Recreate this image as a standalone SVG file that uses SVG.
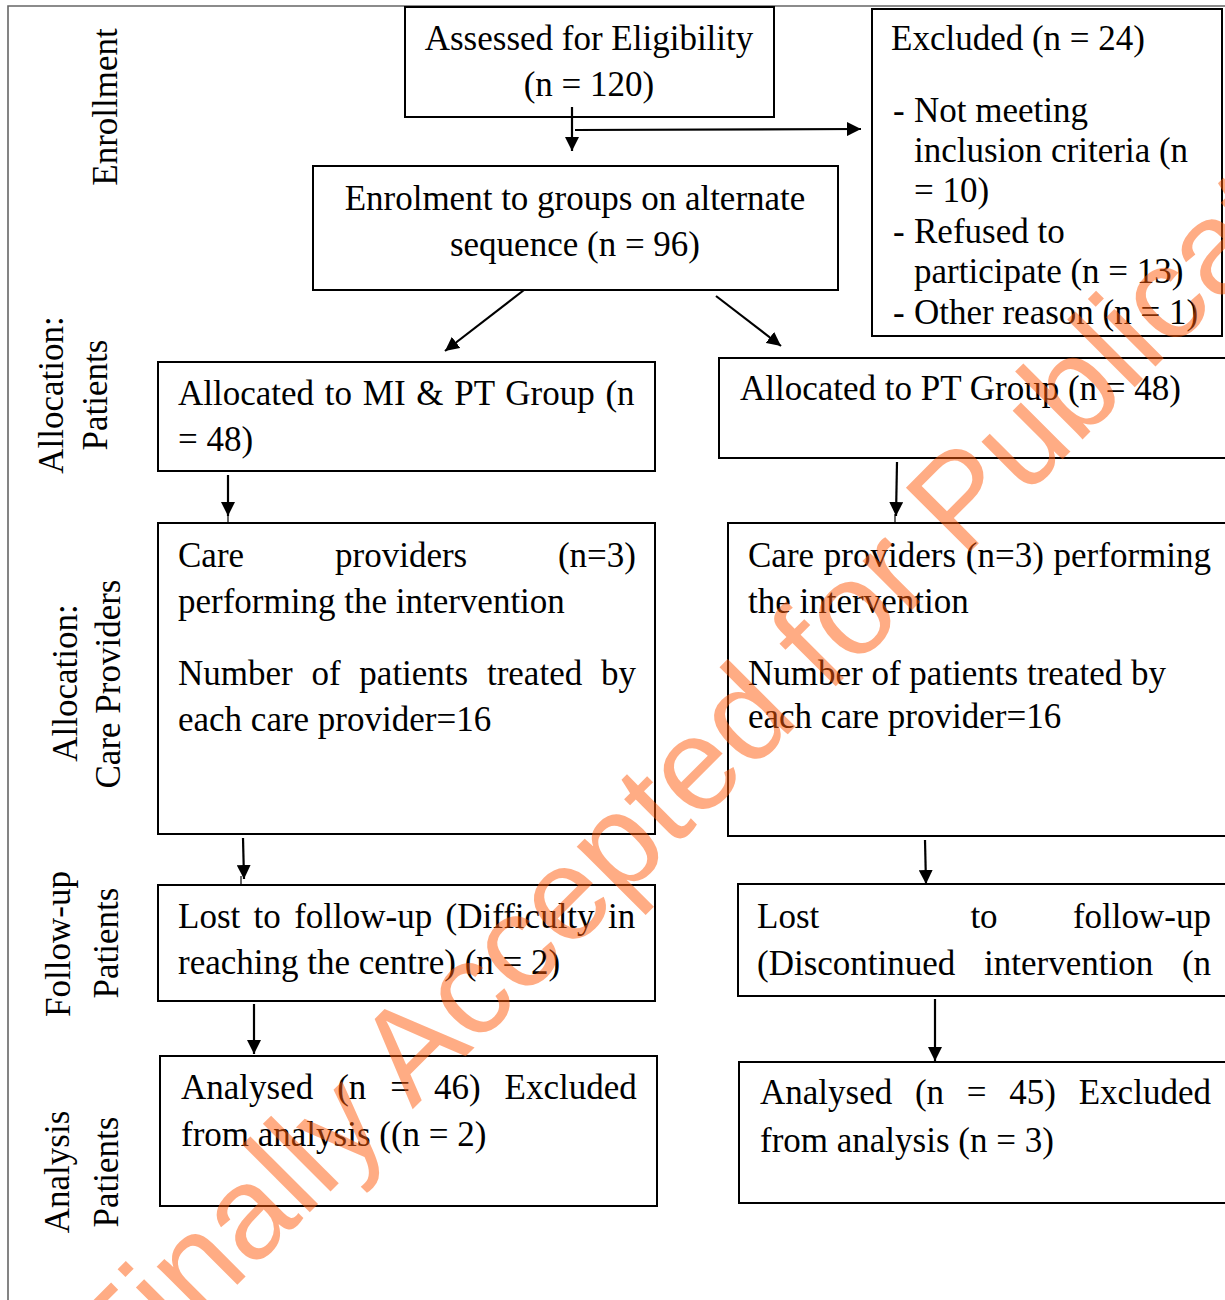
<svg xmlns="http://www.w3.org/2000/svg" width="1225" height="1300" viewBox="0 0 1225 1300">
<defs>
<style>
.box{fill:#fff;stroke:#000;stroke-width:2}
.t{font-family:"Liberation Serif","Times New Roman",serif;font-size:35px;fill:#000}
.m{text-anchor:middle}
.c{stroke:#000;stroke-width:2.2;fill:none}
.tick{stroke:#000;stroke-width:1.2}
.wm{font-family:"Liberation Sans",Arial,sans-serif;font-size:132px;fill:#ff5a0a;fill-opacity:0.5}
</style>
<marker id="ah" viewBox="0 0 14 14" refX="14" refY="7" markerWidth="14" markerHeight="14" markerUnits="userSpaceOnUse" orient="auto">
<path d="M0,0 L14,7 L0,14 Z" fill="#000"/>
</marker>
</defs>
<rect width="1225" height="1300" fill="#fff"/>
<path d="M8,1300 V6 H1225" fill="none" stroke="#666" stroke-width="1.6"/>

<g id="stage-labels" class="t m">
<text transform="translate(117,107) rotate(-90)">Enrollment</text>
<text transform="translate(63,395) rotate(-90)">Allocation:</text>
<text transform="translate(107,395) rotate(-90)">Patients</text>
<text transform="translate(77,683) rotate(-90)">Allocation:</text>
<text transform="translate(120,684) rotate(-90)">Care Providers</text>
<text transform="translate(70,944) rotate(-90)">Follow-up</text>
<text transform="translate(118,943) rotate(-90)">Patients</text>
<text transform="translate(69,1172) rotate(-90)">Analysis</text>
<text transform="translate(118,1172) rotate(-90)">Patients</text>
</g>

<g id="assessed">
<rect class="box" x="405" y="7" width="369" height="110"/>
<text class="t m" x="589" y="50">Assessed for Eligibility</text>
<text class="t m" x="589" y="96">(n = 120)</text>
</g>

<g id="excluded">
<rect class="box" x="872" y="9" width="350" height="327"/>
<text class="t" x="891" y="50">Excluded (n = 24)</text>
<text class="t" x="893" y="122">-</text><text class="t" x="914" y="122">Not meeting</text>
<text class="t" x="914" y="162">inclusion criteria (n</text>
<text class="t" x="914" y="202">= 10)</text>
<text class="t" x="893" y="243">-</text><text class="t" x="914" y="243">Refused to</text>
<text class="t" x="914" y="283">participate (n = 13)</text>
<text class="t" x="893" y="324">-</text><text class="t" x="914" y="324">Other reason (n = 1)</text>
</g>

<g id="enrolment">
<rect class="box" x="313" y="166" width="525" height="124"/>
<text class="t m" x="575" y="210">Enrolment to groups on alternate</text>
<text class="t m" x="575" y="256">sequence (n = 96)</text>
</g>

<g id="alloc-mipt">
<rect class="box" x="158" y="362" width="497" height="109"/>
<text class="t" x="178" y="405" word-spacing="2">Allocated to MI &amp; PT Group (n</text>
<text class="t" x="178" y="451">= 48)</text>
</g>

<g id="alloc-pt">
<rect class="box" x="719" y="358" width="520" height="100"/>
<text class="t" x="740" y="400">Allocated to PT Group (n = 48)</text>
</g>

<g id="care-mipt">
<rect class="box" x="158" y="523" width="497" height="311"/>
<text class="t" x="178" y="567">Care</text>
<text class="t" x="335" y="567">providers</text>
<text class="t" x="636" y="567" text-anchor="end">(n=3)</text>
<text class="t" x="178" y="613">performing the intervention</text>
<text class="t" x="178" y="685" word-spacing="10">Number of patients treated by</text>
<text class="t" x="178" y="731">each care provider=16</text>
</g>

<g id="care-pt">
<rect class="box" x="728" y="523" width="511" height="313"/>
<text class="t" x="748" y="567" word-spacing="1">Care providers (n=3) performing</text>
<text class="t" x="748" y="613">the intervention</text>
<text class="t" x="748" y="685">Number of patients treated by</text>
<text class="t" x="748" y="728">each care provider=16</text>
</g>

<g id="lost-mipt">
<rect class="box" x="158" y="885" width="497" height="116"/>
<text class="t" x="178" y="928" word-spacing="4.6">Lost to follow-up (Difficulty in</text>
<text class="t" x="178" y="974">reaching the centre) (n = 2)</text>
</g>

<g id="lost-pt">
<rect class="box" x="738" y="884" width="501" height="112"/>
<text class="t" x="757" y="928">Lost</text>
<text class="t" x="984" y="928" text-anchor="middle">to</text>
<text class="t" x="1211" y="928" text-anchor="end">follow-up</text>
<text class="t" x="757" y="975" word-spacing="20">(Discontinued intervention (n</text>
</g>

<g id="analysed-mipt">
<rect class="box" x="160" y="1056" width="497" height="150"/>
<text class="t" x="181" y="1099" word-spacing="15.2">Analysed (n = 46) Excluded</text>
<text class="t" x="181" y="1146">from analysis ((n = 2)</text>
</g>

<g id="analysed-pt">
<rect class="box" x="739" y="1062" width="500" height="141"/>
<text class="t" x="760" y="1104" word-spacing="14">Analysed (n = 45) Excluded</text>
<text class="t" x="760" y="1152">from analysis (n = 3)</text>
</g>

<g id="connectors">
<line class="c" x1="572" y1="107" x2="572" y2="151" marker-end="url(#ah)"/>
<line class="c" x1="575" y1="130" x2="861" y2="129" marker-end="url(#ah)"/>
<line class="c" x1="524" y1="290" x2="445" y2="351" marker-end="url(#ah)"/>
<line class="c" x1="716" y1="296" x2="781" y2="346" marker-end="url(#ah)"/>
<line class="c" x1="228" y1="475" x2="228" y2="516" stroke-width="3" marker-end="url(#ah)"/>
<line class="tick" x1="228" y1="514" x2="228" y2="523"/>
<line class="c" x1="897" y1="462" x2="896" y2="516" stroke-width="3" marker-end="url(#ah)"/>
<line class="tick" x1="895" y1="514" x2="895" y2="523"/>
<line class="c" x1="243" y1="838" x2="244" y2="879" stroke-width="3" marker-end="url(#ah)"/>
<line class="tick" x1="241" y1="876" x2="241" y2="885"/>
<line class="c" x1="925" y1="840" x2="926" y2="884" stroke-width="3" marker-end="url(#ah)"/>
<line class="c" x1="254" y1="1004" x2="254" y2="1054" stroke-width="3" marker-end="url(#ah)"/>
<line class="c" x1="935" y1="999" x2="935" y2="1061" stroke-width="3" marker-end="url(#ah)"/>
</g>

<g id="watermark">
<text class="wm" transform="translate(122,1400) rotate(-45)">Finally Accepted for Publication</text>
</g>
</svg>
